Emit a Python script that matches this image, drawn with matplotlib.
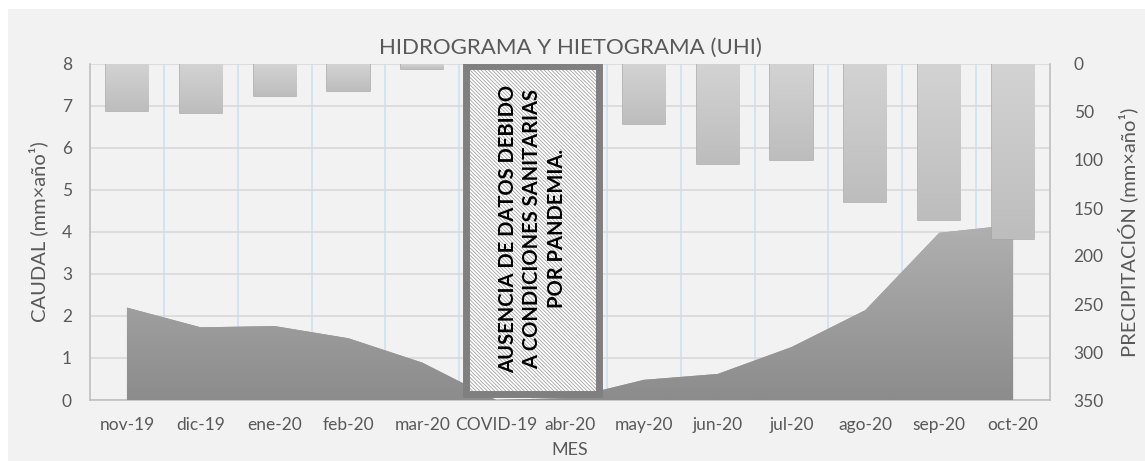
import numpy as np
import matplotlib
matplotlib.use("Agg")
from matplotlib import pyplot as plt
from matplotlib.patches import Rectangle, Polygon

meses = ["nov-19", "dic-19", "ene-20", "feb-20", "mar-20", "COVID-19", "abr-20",
         "may-20", "jun-20", "jul-20", "ago-20", "sep-20", "oct-20"]
caudal = [2.2, 1.73, 1.76, 1.47, 0.89, 0.0, 0.05, 0.48, 0.62, 1.26, 2.14, 3.98, 4.17]
precipitacion = [49, 51, 33, 28, 5, 0, 0, 62, 104, 100, 144, 162, 182]
nota = "AUSENCIA DE DATOS DEBIDO\nA CONDICIONES SANITARIAS\nPOR PANDEMIA."

TXT = "#595959"
BG = "#f2f2f2"
plt.rcParams["font.family"] = ["Lato", "DejaVu Sans"]
plt.rcParams["hatch.linewidth"] = 0.6


def gradient_fill(ax, patch, top, bottom, extent):
    # vertical gradient clipped to a patch
    c0 = np.array(matplotlib.colors.to_rgb(top))
    c1 = np.array(matplotlib.colors.to_rgb(bottom))
    t = np.linspace(0, 1, 100)[:, None]
    img = (c0 * (1 - t) + c1 * t)[:, None, :]
    im = ax.imshow(img, extent=extent, aspect="auto", origin="upper",
                   zorder=patch.get_zorder(), interpolation="bilinear")
    im.set_clip_path(patch)
    return im


fig = plt.figure(figsize=(11.45, 4.61), dpi=100, facecolor="white")
fig.patches.append(Rectangle((8 / 1145, 0), 1, 1 - 9 / 461, transform=fig.transFigure,
                             facecolor=BG, edgecolor="none", zorder=-10))

ax = fig.add_axes([90 / 1145, 61 / 461, 960 / 1145, 336 / 461])
ax.set_facecolor(BG)
x = np.arange(len(meses))

# caudal (area)
verts = [(x[0], 0)] + list(zip(x, caudal)) + [(x[-1], 0)]
area = Polygon(verts, closed=True, facecolor="#9c9c9c", edgecolor="none", zorder=3)
ax.add_patch(area)
gradient_fill(ax, area, "#b0b0b0", "#8c8c8c", (x[0], x[-1], 0, max(caudal)))

ax.set_xlim(-0.5, len(meses) - 0.5)
ax.set_ylim(0, 8)
ax.set_yticks(range(0, 9))
ax.set_xticks(x)
ax.set_xticklabels(meses)
ax.set_xticks(np.arange(0.5, len(meses) - 1, 1), minor=True)
ax.grid(axis="y", color="#d9d9d9", lw=1.2, zorder=0)
ax.grid(axis="x", which="minor", color="#cfe0f3", lw=1.2, zorder=0)
ax.set_axisbelow(True)
ax.tick_params(axis="both", which="both", length=0, colors=TXT, labelsize=12.5)
ax.tick_params(axis="y", pad=13)
ax.tick_params(axis="x", pad=12)
for s in ["left", "bottom"]:
    ax.spines[s].set_color("#bfbfbf")
    ax.spines[s].set_linewidth(1.2)
for s in ["top", "right"]:
    ax.spines[s].set_visible(False)
ax.set_ylabel("CAUDAL (mm×año¹)", color=TXT, fontsize=14.5)
ax.yaxis.set_label_coords(-0.044, 0.5)
ax.set_xlabel("MES", color=TXT, fontsize=13, labelpad=7)

# precipitacion (barras invertidas)
ax2 = ax.twinx()
bars = ax2.bar(x, precipitacion, width=0.57, color="#c8c8c8", edgecolor="#a8a8a8",
               lw=1.1, zorder=3)
for b, v in zip(bars, precipitacion):
    if v > 0:
        gradient_fill(ax2, b, "#d3d3d3", "#bdbdbd",
                      (b.get_x(), b.get_x() + b.get_width(), v, 0))
ax2.set_ylim(350, 0)
ax2.set_yticks(range(0, 351, 50))
ax2.tick_params(axis="y", length=0, colors=TXT, labelsize=12.5, pad=17)
ax2.spines["right"].set_color("#bfbfbf")
ax2.spines["right"].set_linewidth(1.2)
for s in ["top", "left", "bottom"]:
    ax2.spines[s].set_visible(False)
ax2.set_ylabel("PRECIPITACIÓN (mm×año¹)", color=TXT, fontsize=14.5)
ax2.yaxis.set_label_coords(1.07, 0.5)

ax.set_title("HIDROGRAMA Y HIETOGRAMA (UHI)", color=TXT, fontsize=16, pad=7)

# caja de ausencia de datos
x0, x1 = 0.392, 0.5297
y0, y1 = 0.0164, 0.9955
ax2.add_patch(Rectangle((x0, y0), x1 - x0, y1 - y0, transform=ax2.transAxes,
                        facecolor="white", edgecolor="#a3a3a3", hatch="\\" * 9,
                        lw=0, zorder=6))
ax2.add_patch(Rectangle((x0, y0), x1 - x0, y1 - y0, transform=ax2.transAxes,
                        fill=False, edgecolor="#7f7f7f", lw=5, zorder=7))
ax2.text((x0 + x1) / 2, 0.51, nota, transform=ax2.transAxes, rotation=90,
         ha="center", va="center", multialignment="center", fontsize=14.5,
         fontweight="bold", color="black", linespacing=1.3, zorder=8)

fig.savefig("out.png", dpi=100, facecolor=fig.get_facecolor())
